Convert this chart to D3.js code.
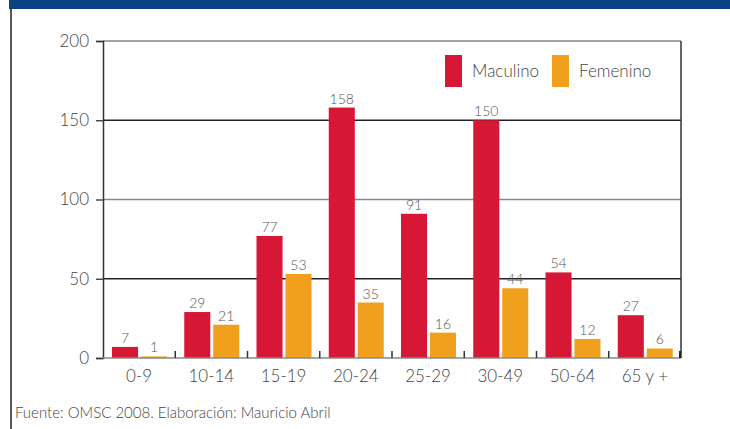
<!DOCTYPE html>
<html><head><meta charset="utf-8">
<script src="https://cdn.jsdelivr.net/npm/d3@7"></script>
<style>body{margin:0;background:#fff}svg{display:block}text{font-family:Lato,"Open Sans",sans-serif;font-weight:300}</style>
</head><body>
<script>
const categories = ["0-9","10-14","15-19","20-24","25-29","30-49","50-64","65 y +"];
const masculino = [7,29,77,158,91,150,54,27];
const femenino = [1,21,53,35,16,44,12,6];
const seriesNames = ["Maculino","Femenino"];
const yTicks = [0,50,100,150,200];
const colors = ["#D71736","#F0A01D"];
const source = "Fuente: OMSC 2008. Elaboración: Mauricio Abril";

const W=730,H=429;
const svg=d3.select("body").append("svg").attr("width",W).attr("height",H);
svg.append("rect").attr("x",9).attr("y",0).attr("width",W-9).attr("height",9).attr("fill","#0A4282");
svg.append("line").attr("x1",11).attr("x2",11).attr("y1",9).attr("y2",H).attr("stroke","#222").attr("stroke-width",1.5);

const L=103,R=681,T=41,B=358;
const x=d3.scaleBand().domain(categories).range([L,R]).paddingInner(0).paddingOuter(0);
const sub=d3.scaleBand().domain(seriesNames).range([9,64]).paddingInner(0.1);
const y=d3.scaleLinear().domain([0,200]).range([B,T]);

// gridlines
yTicks.filter(t=>t>0).forEach(t=>{
  svg.append("line").attr("x1",L).attr("x2",R).attr("y1",y(t)).attr("y2",y(t))
    .attr("stroke",(t===150||t===50)?"#222":"#888").attr("stroke-width",1.3);
});
// y axis
const ya=svg.append("g").attr("transform",`translate(${L},0)`)
  .call(d3.axisLeft(y).tickValues(yTicks).tickSize(7).tickPadding(7));
ya.select(".domain").attr("stroke","#333").attr("stroke-width",1.5);
ya.selectAll(".tick line").attr("stroke","#333").attr("stroke-width",1.3);
ya.selectAll("text").attr("font-size",17).attr("fill","#444").style("font-family","Lato,sans-serif").style("font-weight",300);

// right border
svg.append("line").attr("x1",R).attr("x2",R).attr("y1",T).attr("y2",B).attr("stroke","#333").attr("stroke-width",1.5);

// bars
const data=categories.map((c,i)=>({c,vals:[masculino[i],femenino[i]]}));
const g=svg.append("g");
data.forEach(d=>{
  d.vals.forEach((v,j)=>{
    const bx=x(d.c)+sub(seriesNames[j]);
    g.append("rect").attr("x",bx).attr("y",y(v)).attr("width",sub.bandwidth()).attr("height",B-y(v)).attr("fill",colors[j]);
    g.append("text").attr("x",bx+sub.bandwidth()/2).attr("y",y(v)-4).attr("text-anchor","middle")
      .attr("font-size",14).attr("fill","#555").text(v);
  });
});

// x axis
svg.append("line").attr("x1",L).attr("x2",R).attr("y1",B).attr("y2",B).attr("stroke","#888").attr("stroke-width",1.5);
categories.forEach((c,i)=>{
  if(i>0) svg.append("line").attr("x1",x(c)).attr("x2",x(c)).attr("y1",B).attr("y2",B-7).attr("stroke","#333").attr("stroke-width",1.5);
  svg.append("text").attr("x",x(c)+x.bandwidth()/2).attr("y",B+24).attr("text-anchor","middle")
    .attr("font-size",17).attr("fill","#444").text(c);
});
svg.append("line").attr("x1",R-1).attr("x2",R-1).attr("y1",B).attr("y2",B-7).attr("stroke","#222").attr("stroke-width",2);

// legend
const lg=[{x:445,tx:472},{x:552,tx:579}];
seriesNames.forEach((n,j)=>{
  svg.append("rect").attr("x",lg[j].x).attr("y",55).attr("width",17).attr("height",32).attr("fill",colors[j]);
  svg.append("text").attr("x",lg[j].tx).attr("y",77).attr("font-size",17).attr("fill","#444").text(n);
});

svg.append("text").attr("x",15).attr("y",418).attr("font-size",15).attr("fill","#444").text(source);
</script>
</body></html>
